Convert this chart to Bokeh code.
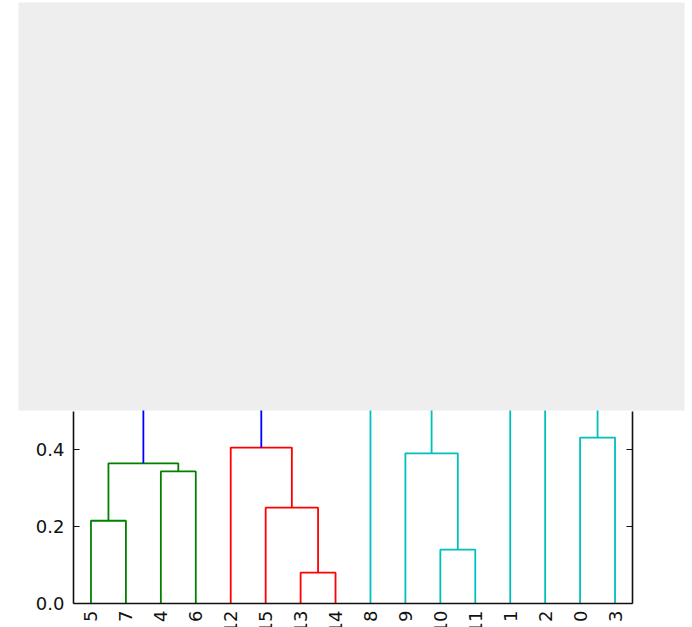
import math
from bokeh.plotting import figure
from bokeh.models import FixedTicker, LinearAxis, BoxAnnotation, Range1d
from bokeh.embed import file_html
from bokeh.resources import INLINE

# ---- data -------------------------------------------------------------
leaf_order = [5, 7, 4, 6, 12, 15, 13, 14, 8, 9, 10, 11, 1, 2, 0, 3]
# merges: child refs are ("L", leaf) or ("M", merge index)
merge_a = [("L", 5), ("L", 4), ("M", 0), ("L", 13), ("L", 15), ("L", 12), ("L", 10), ("L", 9), ("L", 0),
           ("L", 8), ("L", 1), ("M", 10), ("M", 9), ("M", 2), ("M", 13)]
merge_b = [("L", 7), ("L", 6), ("M", 1), ("L", 14), ("M", 3), ("M", 4), ("L", 11), ("M", 6), ("L", 3),
           ("M", 7), ("L", 2), ("M", 8), ("M", 11), ("M", 5), ("M", 12)]
merge_h = [0.215, 0.343, 0.364, 0.080, 0.249, 0.405, 0.140, 0.390, 0.431,
           0.62, 0.58, 0.75, 0.90, 0.80, 1.30]
merge_c = ["#008000", "#008000", "#008000", "#ff0000", "#ff0000", "#ff0000", "#00bfbf", "#00bfbf", "#00bfbf",
           "#00bfbf", "#00bfbf", "#00bfbf", "#00bfbf", "#0000ff", "#0000ff"]
y_ticks = [0.0, 0.2, 0.4]
y_tick_labels = ["0.0", "0.2", "0.4"]

# ---- geometry from the data -------------------------------------------
leaf_x = {leaf: 10 * i + 5 for i, leaf in enumerate(leaf_order)}
node_x, node_h = [], []


def pos(ref):
    kind, idx = ref
    if kind == "L":
        return leaf_x[idx], 0.0
    return node_x[idx], node_h[idx]


xs, ys = [], []
for a, b, h in zip(merge_a, merge_b, merge_h):
    xa_, ha = pos(a)
    xb_, hb = pos(b)
    xs.append([xa_, xa_, xb_, xb_])
    ys.append([ha, h, h, hb])
    node_x.append((xa_ + xb_) / 2)
    node_h.append(h)

x_max = 10 * len(leaf_order)

# ---- figure: frame covers the whole canvas, axes are pinned -------------
W, H = 692, 627
ax_left, ax_right, ax_bottom = 73.0, 632.0, 603.0
sx = (ax_right - ax_left) / x_max
sy = 385.0
x0 = -ax_left / sx
x1 = x_max + (W - ax_right) / sx
y0 = -(H - ax_bottom) / sy
y1 = ax_bottom / sy

p = figure(width=W, height=H, output_backend="svg", toolbar_location=None,
           x_range=Range1d(x0, x1), y_range=Range1d(y0, y1),
           min_border=0)
p.outline_line_color = None
p.xgrid.visible = False
p.ygrid.visible = False
p.background_fill_color = "white"
p.border_fill_color = "white"

p.multi_line(xs=xs, ys=ys, line_color=merge_c, line_width=1.8)

FONT = "DejaVu Sans"
INK = "#111111"
visible_top = 0.50

xa = p.xaxis[0]
xa.fixed_location = 0
xa.bounds = (0, x_max)
xa.ticker = FixedTicker(ticks=[leaf_x[l] for l in leaf_order])
xa.major_label_overrides = {leaf_x[l]: str(l) for l in leaf_order}
xa.major_label_orientation = math.pi / 2
xa.major_tick_in = 0
xa.major_tick_out = 0
xa.minor_tick_in = 0
xa.minor_tick_out = 0
xa.major_label_standoff = 7
xa.major_label_text_font = FONT
xa.major_label_text_font_size = "18px"
xa.major_label_text_color = INK
xa.axis_line_color = INK
xa.axis_line_width = 1.6

ya = p.yaxis[0]
ya.fixed_location = 0
ya.ticker = FixedTicker(ticks=y_ticks)
ya.major_label_overrides = {t: s for t, s in zip(y_ticks, y_tick_labels)}
ya.bounds = (0, visible_top)
ya.major_tick_in = 6
ya.major_tick_out = 0
ya.minor_tick_in = 0
ya.minor_tick_out = 0
ya.major_label_standoff = 9
ya.major_label_text_font = FONT
ya.major_label_text_font_size = "18px"
ya.major_label_text_color = INK
ya.axis_line_color = INK
ya.axis_line_width = 1.6
ya.major_tick_line_color = INK
ya.major_tick_line_width = 1.2

ra = LinearAxis(ticker=FixedTicker(ticks=y_ticks), bounds=(0, visible_top), fixed_location=x_max)
ra.major_label_overrides = {t: "" for t in y_ticks}
ra.major_tick_in = 6
ra.major_tick_out = 0
ra.minor_tick_in = 0
ra.minor_tick_out = 0
ra.axis_line_color = INK
ra.axis_line_width = 1.6
ra.major_tick_line_color = INK
ra.major_tick_line_width = 1.2
p.add_layout(ra, "right")

box = BoxAnnotation(left=18, right=684, top=2, bottom=410,
                    left_units="canvas", right_units="canvas",
                    top_units="canvas", bottom_units="canvas",
                    fill_color="#eeeeee", fill_alpha=1.0, line_color=None, level="overlay")
p.add_layout(box)

open("out.html", "w").write(file_html(p, INLINE))
